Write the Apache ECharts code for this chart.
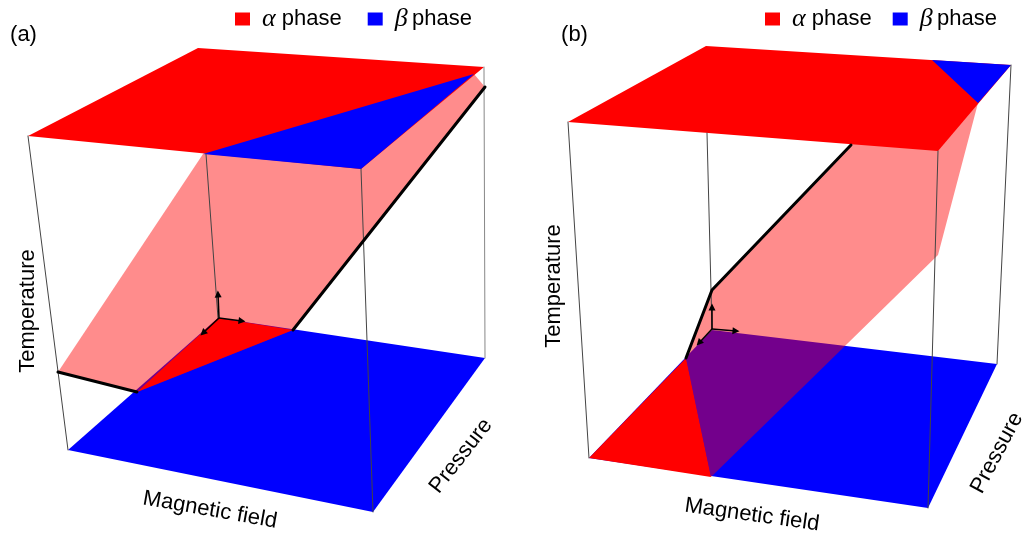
<!DOCTYPE html>
<html>
<head>
<meta charset="utf-8">
<script src="https://cdn.jsdelivr.net/npm/echarts@6/dist/echarts.min.js"></script>
<style>
html,body{margin:0;padding:0;background:#fff;}
#chart{width:1026px;height:541px;}
</style>
</head>
<body>
<div id="chart"></div>
<script>
// ---------- data (projected schematic coordinates, axis units) ----------
// Panel (a)
const aFloorBeta   = [[68,450],[373,512],[485,358],[218,318]];
const aFloorAlpha  = [[137,392],[218,318],[293,330]];
const aBoundary    = [[58,372],[203,154],[474,74],[485,87],[293,330],[137,392]];
const aTopAlpha    = [[28,136],[198,48],[484,67],[361,169]];
const aTopBeta     = [[203,154],[361,169],[474,74]];
const aEdgeLeft    = [[28,136],[68,450]];
const aEdgeBack    = [[206,154],[218,318]];
const aEdgeFront   = [[361,169],[373,512]];
const aEdgeRight   = [[484,67],[485,358]];
const aLineLow     = [[58,372],[137,392]];
const aLineHigh    = [[293,330],[485,87]];
const aOrigin      = [219,318];
const aArrowTips   = [[218,294],[242,321],[203,333]];
// Panel (b)
const bFloorBeta   = [[589,458],[928,508],[997,364],[712,330]];
const bFloorAlpha  = [[589,458],[686,358],[711,477]];
const bBoundary    = [[686,358],[712,290],[851,145],[932,60],[978,103],[938,255],[711,477]];
const bTopAlpha    = [[568,122],[706,46],[1011,65],[938,151]];
const bTopBeta     = [[932,60],[1011,65],[978,103]];
const bEdgeLeft    = [[568,122],[589,458]];
const bEdgeBack    = [[707,133],[712,329]];
const bEdgeFront   = [[938,151],[928,508]];
const bEdgeRight   = [[1011,65],[997,364]];
const bLine        = [[686,358],[712,290],[851,145]];
const bOrigin      = [712,329];
const bArrowTips   = [[712,307],[736,331],[699,343]];
// Labels
const phaseNames   = ['α phase','β phase'];
const panelLabels  = ['(a)','(b)'];
const axisNames    = ['Temperature','Magnetic field','Pressure'];

// ---------- styles ----------
const RED = '#ff0000', BLUE = '#0000ff', PINK = 'rgba(255,0,0,0.45)';
const FONT = '22px "Liberation Sans", Arial, sans-serif';

function poly(name, pts, color, z) {
  return {
    type: 'custom', name: name, z: z, silent: true, animation: false,
    data: pts, encode: {x: 0, y: 1},
    itemStyle: {color: color},
    renderItem: function (params, api) {
      if (params.dataIndex !== 0) return null;
      return {
        type: 'polygon',
        shape: {points: pts.map(function (p) { return api.coord(p); })},
        style: {fill: color}
      };
    }
  };
}
function line(pts, color, width, z) {
  return {
    type: 'line', data: pts, symbol: 'none', showSymbol: false, silent: true,
    animation: false, z: z,
    lineStyle: {color: color, width: width, cap: 'round', join: 'round'}
  };
}
function arrows(origin, tips) {
  return {
    type: 'lines', coordinateSystem: 'cartesian2d', silent: true, animation: false, z: 6,
    symbol: ['none', 'triangle'], symbolSize: 7,
    lineStyle: {color: '#000', width: 1.5, opacity: 1},
    data: tips.map(function (t) { return {coords: [origin, t]}; })
  };
}
function txt(s, x, y, rotDeg) {
  return {
    type: 'text', x: x, y: y, rotation: rotDeg * Math.PI / 180, silent: true,
    style: {text: s, font: FONT, fill: '#000',
      textAlign: 'center', textVerticalAlign: 'middle', align: 'center', verticalAlign: 'middle'}
  };
}
const EDGE = '#444';
function legendCfg(left, gap) {
  return {
    left: left, top: 6, padding: 0, itemGap: gap, itemWidth: 15, itemHeight: 13,
    selectedMode: false,
    data: [{name: phaseNames[0], icon: 'rect'}, {name: phaseNames[1], icon: 'rect'}],
    formatter: function (n) {
      return n === phaseNames[0] ? '{g|α}{t| phase}' : '{g|β}{t|\u2009phase}';
    },
    textStyle: {
      rich: {
        g: {fontFamily: '"Liberation Serif", serif', fontStyle: 'italic', fontSize: 26, color: '#000', padding: [0, 0, 0, 7]},
        t: {fontFamily: '"Liberation Sans", Arial, sans-serif', fontSize: 22, color: '#000'}
      }
    }
  };
}

const chart = echarts.init(document.getElementById('chart'), null, {renderer: 'canvas'});
chart.setOption({
  animation: false,
  backgroundColor: '#fff',
  grid: {left: 0, right: 0, top: 0, bottom: 0},
  xAxis: {type: 'value', min: 0, max: 1026, show: false},
  yAxis: {type: 'value', min: 0, max: 541, inverse: true, show: false},
  legend: [legendCfg(235, 26), legendCfg(765, 21)],
  series: [
    poly(phaseNames[1], aFloorBeta, BLUE, 1),
    poly(phaseNames[0], aFloorAlpha, RED, 1),
    poly(phaseNames[1], bFloorBeta, BLUE, 1),
    poly(phaseNames[0], bFloorAlpha, RED, 1),
    poly('boundaryA', aBoundary, PINK, 2),
    poly('boundaryB', bBoundary, PINK, 2),
    poly(phaseNames[0], aTopAlpha, RED, 3),
    poly(phaseNames[1], aTopBeta, BLUE, 3),
    poly(phaseNames[0], bTopAlpha, RED, 3),
    poly(phaseNames[1], bTopBeta, BLUE, 3),
    line(aEdgeLeft, EDGE, 1, 4), line(aEdgeBack, EDGE, 1, 4),
    line(aEdgeFront, EDGE, 1, 4), line(aEdgeRight, '#888', 1, 4),
    line(bEdgeLeft, EDGE, 1, 4), line(bEdgeBack, EDGE, 1, 4),
    line(bEdgeFront, EDGE, 1, 4), line(bEdgeRight, EDGE, 1, 4),
    line(aLineLow, '#000', 3, 5), line(aLineHigh, '#000', 3, 5),
    line(bLine, '#000', 3, 5),
    arrows(aOrigin, aArrowTips), arrows(bOrigin, bArrowTips)
  ],
  graphic: [
    txt(panelLabels[0], 23.5, 35, 0),
    txt(panelLabels[1], 574.5, 35, 0),
    txt(axisNames[0], 28, 311, 90),
    txt(axisNames[0], 554, 286, 90),
    txt(axisNames[1], 210, 510, -10),
    txt(axisNames[1], 752, 515, -8),
    txt(axisNames[2], 461, 456, 52),
    txt(axisNames[2], 997, 453, 62)
  ]
});
</script>
</body>
</html>
